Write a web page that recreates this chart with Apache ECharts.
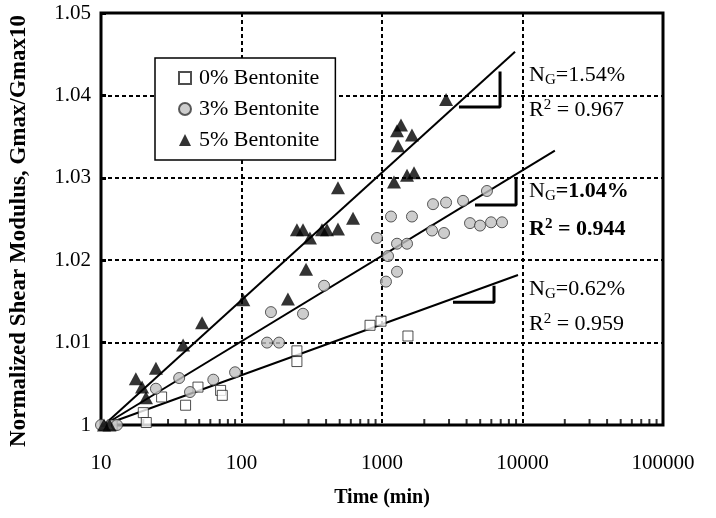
<!DOCTYPE html>
<html>
<head>
<meta charset="utf-8">
<script src="https://cdn.jsdelivr.net/npm/echarts@6/dist/echarts.min.js"></script>
<style>
  html, body { margin: 0; padding: 0; background: #fff; }
  #chart { width: 716px; height: 518px; }
</style>
</head>
<body>
<div id="chart"></div>
<script>
// measured data [time (min), Gmax/Gmax10]
var bent0 = [[12, 1.0000], [20, 1.0015], [21, 1.0003], [27, 1.0034], [40, 1.0024], [49, 1.0046],
             [71, 1.0042], [73, 1.0036], [248, 1.0090], [248, 1.0077], [822, 1.0121], [984, 1.0126],
             [1530, 1.0108]];
var bent3 = [[10, 1.0000], [13, 1.0000], [24.6, 1.0044], [36, 1.0057], [43, 1.0040], [63, 1.0055],
             [90, 1.0064], [152, 1.0100], [185, 1.0100], [162, 1.0137], [274, 1.0135], [387, 1.0169],
             [921, 1.0227], [1067, 1.0174], [1104, 1.0205], [1279, 1.0186], [1279, 1.0220], [1507, 1.0220],
             [1159, 1.0253], [1634, 1.0253], [2307, 1.0268], [2858, 1.0270], [3776, 1.0272], [5584, 1.0284],
             [2270, 1.0236], [2762, 1.0233], [4230, 1.0245], [4985, 1.0242], [5975, 1.0246], [7150, 1.0246]];
var bent5 = [[10.5, 1.0000], [11.5, 1.0000], [17.7, 1.0056], [19.6, 1.0046], [20.9, 1.0033], [24.6, 1.0069],
             [38.4, 1.0097], [52.4, 1.0124], [103, 1.0152], [214, 1.0153], [288, 1.0189], [248, 1.0237],
             [274, 1.0237], [307, 1.0227], [374, 1.0237], [406, 1.0237], [486, 1.0238], [486, 1.0288],
             [622, 1.0251], [1217, 1.0295], [1507, 1.0303], [1690, 1.0306], [1300, 1.0339], [1279, 1.0357],
             [1365, 1.0364], [1634, 1.0352], [2858, 1.0395]];

// fitted trend lines (end points)
var trend0 = [[10.5, 1.0], [9290, 1.0182]];
var trend3 = [[10.5, 1.0], [17000, 1.0333]];
var trend5 = [[10.5, 1.0], [8850, 1.0453]];

// slope marks
var slope0 = [[3200, 1.0149], [6270, 1.0149], [6270, 1.0169]];
var slope3 = [[4590, 1.0267], [9000, 1.0267], [9000, 1.0301]];
var slope5 = [[3530, 1.0386], [6920, 1.0386], [6920, 1.0429]];

var seriesNames = ['0% Bentonite', '3% Bentonite', '5% Bentonite'];
var yTickLabels = ['1', '1.01', '1.02', '1.03', '1.04', '1.05'];
var xDecades = [10, 100, 1000, 10000];
var xMinorSteps = [2, 3, 4, 5, 6, 7, 8, 9];

var minorTicks = [];
xDecades.forEach(function (d) {
    xMinorSteps.forEach(function (m) { minorTicks.push([d * m, 1.0]); });
});

var serif = 'Liberation Serif';
var chart = echarts.init(document.getElementById('chart'));

function trendLine(data, w) {
    return {
        type: 'line', data: data, symbol: 'none', silent: true, clip: false, z: 3,
        lineStyle: { color: '#000', width: w }
    };
}

var option = {
    animation: false,
    backgroundColor: '#fff',
    grid: {
        left: 101, right: 53, top: 13, bottom: 93,
        show: true, borderColor: '#000', borderWidth: 3, backgroundColor: 'transparent'
    },
    legend: {
        data: seriesNames,
        orient: 'vertical',
        left: 155, top: 58,
        padding: [9, 16, 9, 23],
        itemGap: 9,
        itemWidth: 12, itemHeight: 12,
        backgroundColor: '#fff',
        borderColor: '#000', borderWidth: 1.5,
        borderRadius: 0,
        textStyle: { fontFamily: serif, fontSize: 22, color: '#000', padding: [0, 0, 0, 3] }
    },
    xAxis: {
        type: 'log', logBase: 10, min: 10, max: 100000,
        name: 'Time (min)', nameLocation: 'middle', nameGap: 63,
        nameTextStyle: { fontFamily: serif, fontSize: 20, fontWeight: 'bold', color: '#000' },
        axisLine: { show: false },
        axisTick: { show: false },
        axisLabel: {
            fontFamily: serif, fontSize: 21, color: '#000', margin: 28,
            formatter: function (v) { return String(Math.round(v)); }
        },
        splitLine: { show: true, lineStyle: { color: '#000', width: 2, type: [4, 3] } }
    },
    yAxis: {
        type: 'value', min: 1, max: 1.05, interval: 0.01,
        name: 'Normalized Shear Modulus, Gmax/Gmax10', nameLocation: 'middle', nameGap: 70,
        nameTextStyle: {
            fontFamily: serif, fontSize: 23, fontWeight: 'bold', color: '#000',
            padding: [0, 24, 0, 0]
        },
        axisLine: { show: false },
        axisTick: { show: true, inside: true, length: 5, lineStyle: { color: '#000', width: 3 } },
        axisLabel: {
            fontFamily: serif, fontSize: 21, color: '#000', margin: 10,
            formatter: function (v) { return yTickLabels[Math.round((v - 1) * 100)]; }
        },
        splitLine: { show: true, lineStyle: { color: '#000', width: 2, type: [4, 3] } }
    },
    series: [
        trendLine(trend0, 2), trendLine(trend3, 2), trendLine(trend5, 2),
        trendLine(slope0, 3), trendLine(slope3, 3), trendLine(slope5, 3),
        {
            type: 'scatter', data: minorTicks, silent: true, clip: false, z: 2,
            symbol: 'rect', symbolSize: [2, 6], symbolOffset: [0, -3],
            itemStyle: { color: '#000' }
        },
        {
            name: seriesNames[0], type: 'scatter', data: bent0, clip: false, z: 5,
            symbol: 'rect', symbolSize: 10,
            itemStyle: { color: '#fff', borderColor: '#222', borderWidth: 1 }
        },
        {
            name: seriesNames[1], type: 'scatter', data: bent3, clip: false, z: 5,
            symbol: 'circle', symbolSize: 11,
            itemStyle: { color: '#c0c0c0', borderColor: '#333', borderWidth: 1 }
        },
        {
            name: seriesNames[2], type: 'scatter', data: bent5, clip: false, z: 5,
            symbol: 'triangle', symbolSize: [14, 13],
            itemStyle: { color: '#000' }
        }
    ],
    graphic: [
        {
            type: 'text', left: 529, top: 64, z: 10,
            style: {
                text: 'N{s|G}=1.54%', fill: '#000', font: '22px ' + serif,
                rich: { s: { fontSize: 15, fontFamily: serif, verticalAlign: 'bottom', padding: [10, 0, 0, 0] } }
            }
        },
        {
            type: 'text', left: 529, top: 98, z: 10,
            style: {
                text: 'R{p|2} = 0.967', fill: '#000', font: '22px ' + serif,
                rich: { p: { fontSize: 15, fontFamily: serif, verticalAlign: 'top', padding: [0, 0, 10, 0] } }
            }
        },
        {
            type: 'text', left: 529, top: 180, z: 10,
            style: {
                text: 'N{s|G}{b|=1.04%}', fill: '#000', font: '22px ' + serif,
                rich: {
                    s: { fontSize: 15, fontFamily: serif, verticalAlign: 'bottom', padding: [10, 0, 0, 0] },
                    b: { fontSize: 22, fontFamily: serif, fontWeight: 'bold' }
                }
            }
        },
        {
            type: 'text', left: 529, top: 217, z: 10,
            style: {
                text: 'R{p|2} = 0.944', fill: '#000', font: 'bold 22px ' + serif,
                rich: { p: { fontSize: 15, fontFamily: serif, fontWeight: 'bold', verticalAlign: 'top', padding: [0, 0, 10, 0] } }
            }
        },
        {
            type: 'text', left: 529, top: 278, z: 10,
            style: {
                text: 'N{s|G}=0.62%', fill: '#000', font: '22px ' + serif,
                rich: { s: { fontSize: 15, fontFamily: serif, verticalAlign: 'bottom', padding: [10, 0, 0, 0] } }
            }
        },
        {
            type: 'text', left: 529, top: 312, z: 10,
            style: {
                text: 'R{p|2} = 0.959', fill: '#000', font: '22px ' + serif,
                rich: { p: { fontSize: 15, fontFamily: serif, verticalAlign: 'top', padding: [0, 0, 10, 0] } }
            }
        }
    ]
};

chart.setOption(option);
</script>
</body>
</html>
